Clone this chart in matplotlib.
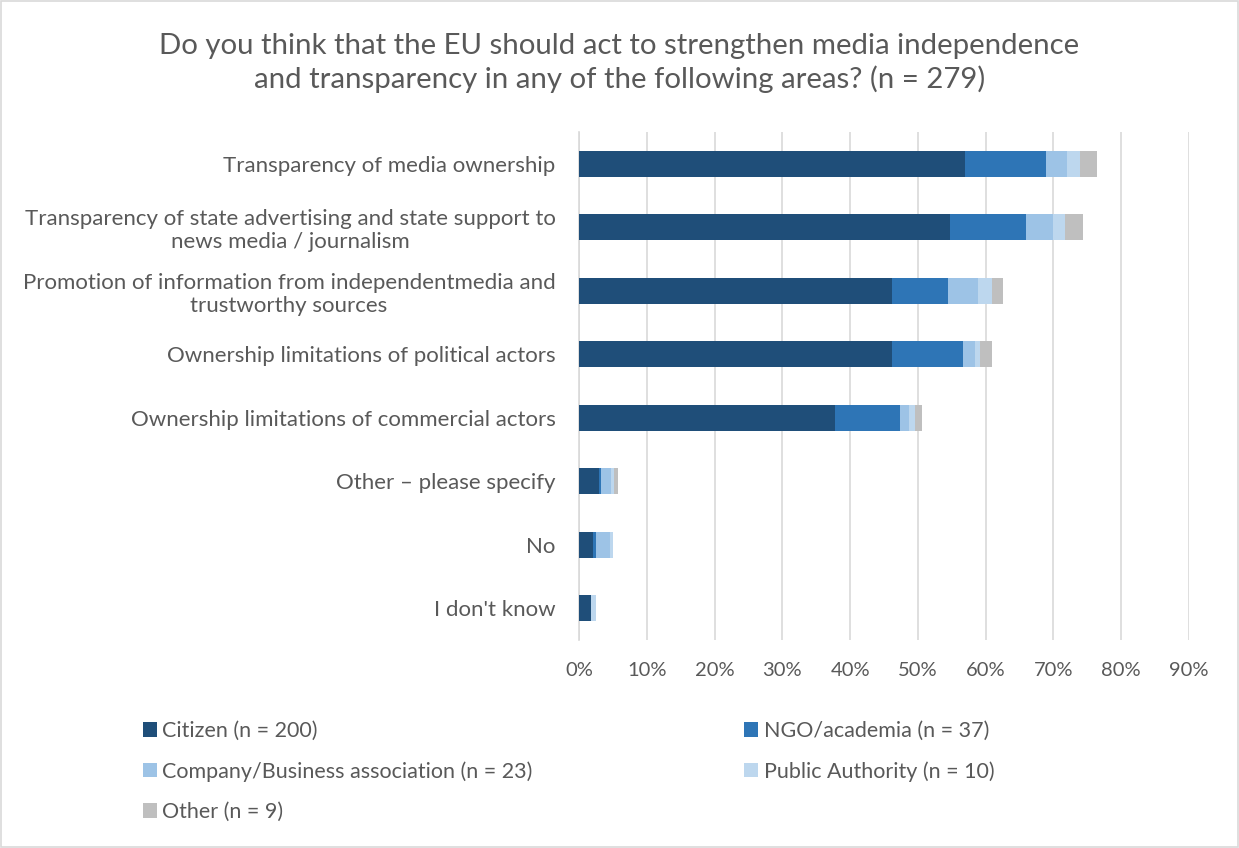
import matplotlib
matplotlib.use("Agg")
import matplotlib.pyplot as plt
from matplotlib.patches import Rectangle, Patch
import numpy as np

plt.rcParams['font.family'] = ['Lato', 'DejaVu Sans']

categories = [
    "Transparency of media ownership",
    "Transparency of state advertising and state support to\nnews media / journalism",
    "Promotion of information from independentmedia and\ntrustworthy sources",
    "Ownership limitations of political actors",
    "Ownership limitations of commercial actors",
    "Other \u2013 please specify",
    "No",
    "I don't know",
]
series_names = [
    "Citizen (n = 200)",
    "NGO/academia (n = 37)",
    "Company/Business association (n = 23)",
    "Public Authority (n = 10)",
    "Other (n = 9)",
]
citizen = [57.0, 54.8, 46.2, 46.2, 37.7, 2.9, 2.1, 1.8]
ngo = [11.9, 11.1, 8.3, 10.5, 9.7, 0.4, 0.4, 0.0]
company = [3.1, 4.0, 4.3, 1.7, 1.3, 1.4, 2.1, 0.0]
public_auth = [1.9, 1.8, 2.2, 0.8, 0.8, 0.4, 0.4, 0.7]
other = [2.5, 2.6, 1.5, 1.7, 1.1, 0.6, 0.0, 0.0]
colors = ["#1F4E79", "#2E75B6", "#9DC3E6", "#BDD7EE", "#BFBFBF"]
xticks = [0, 10, 20, 30, 40, 50, 60, 70, 80, 90]
title = ("Do you think that the EU should act to strengthen media independence\n"
         "and transparency in any of the following areas? (n = 279)")

fig = plt.figure(figsize=(12.39, 8.48), dpi=100)
ax = fig.add_axes([579/1239, 1-640/848, (1189-579)/1239, (640-132)/848])

y = np.arange(len(categories))
left = np.zeros(len(categories))
series = [citizen, ngo, company, public_auth, other]
handles = []
for vals, col, name in zip(series, colors, series_names):
    vals = np.array(vals)
    ax.barh(y, vals, left=left, height=0.41, color=col, edgecolor='none', zorder=3)
    left += vals
    handles.append(Patch(facecolor=col, edgecolor='none', label=name))

ax.set_ylim(len(categories) - 0.5, -0.5)
ax.set_xlim(0, 90)
ax.set_xticks(xticks)
ax.set_xticklabels([f"{v}%" for v in xticks])
ax.set_yticks(y)
ax.set_yticklabels(categories)
for t in ax.get_yticklabels():
    t.set_multialignment('center')
ax.tick_params(axis='both', length=0, labelcolor='#595959')
ax.tick_params(axis='x', pad=16, labelsize=14.5)
ax.tick_params(axis='y', pad=17, labelsize=16)
ax.grid(axis='x', color='#D9D9D9', linewidth=1.2, zorder=0)
for s in ['top', 'right', 'bottom']:
    ax.spines[s].set_visible(False)
ax.spines['left'].set_color('#D9D9D9')
ax.spines['left'].set_linewidth(1.2)
ax.set_axisbelow(True)

fig.text(0.5, 1-63/848, title, ha='center', va='center', fontsize=21.2,
         color='#595959', linespacing=1.28)

order = [0, 2, 4, 1, 3]
leg = fig.legend([handles[i] for i in order], [series_names[i] for i in order],
                 loc='upper left', bbox_to_anchor=(143/1239, 1-721/848), ncol=2,
                 frameon=False, fontsize=15.5, labelcolor='#595959',
                 handlelength=0.65, handleheight=0.65, handletextpad=0.25,
                 columnspacing=9.83, labelspacing=0.94, borderaxespad=0, borderpad=0)

fig.patches.append(Rectangle((0.001, 0.001), 0.998, 0.998, transform=fig.transFigure,
                             fill=False, edgecolor='#D9D9D9', linewidth=1.2))

fig.savefig("out.png", dpi=100)
